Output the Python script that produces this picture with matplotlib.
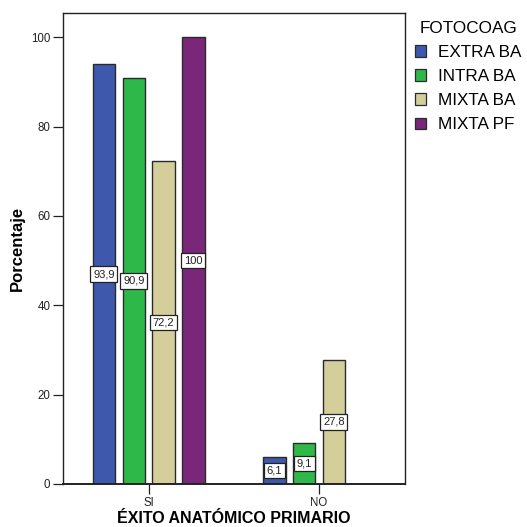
import matplotlib
matplotlib.use("Agg")
import matplotlib.pyplot as plt
import numpy as np
from matplotlib.patches import Patch

plt.rcParams['font.family'] = ['Liberation Sans', 'DejaVu Sans']

categories = ["SI", "NO"]
series_names = ["EXTRA BA", "INTRA BA", "MIXTA BA", "MIXTA PF"]
values = {
    "EXTRA BA": [93.9, 6.1],
    "INTRA BA": [90.9, 9.1],
    "MIXTA BA": [72.2, 27.8],
    "MIXTA PF": [100.0, None],
}
colors = ["#3e58ac", "#2fb84a", "#d4ce9a", "#7b2779"]
yticks = [0, 20, 40, 60, 80, 100]

fig = plt.figure(figsize=(5.27, 5.27), dpi=100)
ax = fig.add_axes([63/527, 1-484/527, 342/527, 471/527])

pitch = 0.175
width = 0.132
x = np.arange(len(categories))
for i, (name, col) in enumerate(zip(series_names, colors)):
    offset = (i - 1.5) * pitch
    for j, v in enumerate(values[name]):
        if v is None:
            continue
        ax.bar(x[j] + offset, v, width=width, color=col, edgecolor="#2a2a2a",
               linewidth=1.0, zorder=2)
        label = f"{v:g}".replace(".", ",")
        ax.text(x[j] + offset, v / 2, label, ha="center", va="center",
                fontsize=8, color="#222222", zorder=3,
                bbox=dict(boxstyle="square,pad=0.25", facecolor="white",
                          edgecolor="#222222", linewidth=0.9))

ax.set_xlim(-0.503, 1.505)
ax.set_ylim(0, 105.4)
ax.set_xticks(x)
ax.set_xticklabels(categories, fontsize=8.3)
ax.set_yticks(yticks)
ax.set_yticklabels([str(t) for t in yticks], fontsize=8.3)
ax.tick_params(axis="both", direction="out", length=7, width=0.9, color="#222222",
               labelcolor="#222222", pad=2)
for s in ax.spines.values():
    s.set_linewidth(1.0)
    s.set_color("#222222")
ax.spines["bottom"].set_linewidth(1.4)

ax.set_ylabel("Porcentaje", fontsize=12, fontweight="bold")
ax.yaxis.set_label_coords(-0.111, 0.5)
ax.set_xlabel("ÉXITO ANATÓMICO PRIMARIO", fontsize=11.5, fontweight="bold")
ax.xaxis.set_label_coords(0.5, -0.057)

handles = [Patch(facecolor=c, edgecolor="#2a2a2a", linewidth=0.9) for c in colors]
leg = fig.legend(handles, series_names, title="FOTOCOAG", loc="upper left",
                 bbox_to_anchor=(415/527, 1-21/527), frameon=False, fontsize=12.3,
                 title_fontsize=12.3, handlelength=0.65, handleheight=0.65,
                 handletextpad=0.7, labelspacing=0.53, borderaxespad=0,
                 borderpad=0)

fig.savefig("out.png", dpi=100)
